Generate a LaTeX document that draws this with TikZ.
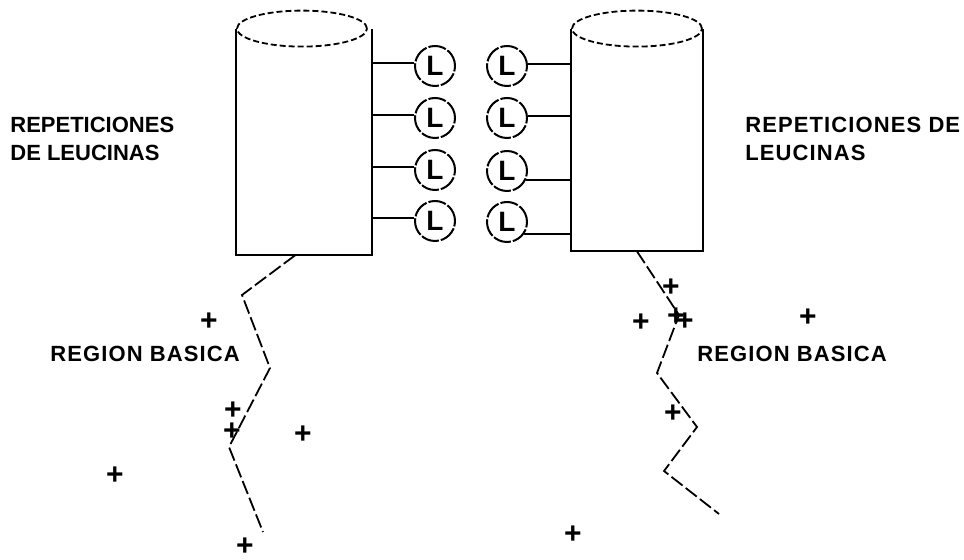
\documentclass[tikz,border=0pt]{standalone}
\usepackage{fontspec}
\setmainfont{Liberation Sans}
\usetikzlibrary{shapes.geometric}
\begin{document}
\begin{tikzpicture}[x=0.5pt,y=-0.5pt,
  lbl/.style={font=\bfseries\fontsize{11}{14}\selectfont, align=left, inner sep=0pt, anchor=north west},
  wide/.style={font=\bfseries\fontsize{11}{14}\selectfont\addfontfeature{LetterSpace=#1}},
  leu/.style={draw, circle, line width=1pt, dash pattern=on 9pt off 1pt, minimum size=20pt, inner sep=0pt, font=\bfseries\fontsize{14}{14}\selectfont},
  chg/.style={inner sep=0pt, font=\bfseries\fontsize{15}{15}\selectfont},
  zig/.style={line width=0.9pt, dash pattern=on 7pt off 2pt},
  lid/.style={draw, ellipse, line width=0.9pt, dash pattern=on 3pt off 1.5pt, minimum width=65pt, minimum height=18pt, inner sep=0pt}]
\useasboundingbox (0,0) rectangle (964,560);

% the two helices
\node[minimum width=68pt, minimum height=113pt, inner sep=0pt] (a) at (304,142) {};
\node[minimum width=66pt, minimum height=111pt, inner sep=0pt] (b) at (637,140) {};
\draw[line width=1pt] (a.north west) -- (a.south west) -- (a.south east) -- (a.north east);
\draw[line width=1pt] (b.north west) -- (b.south west) -- (b.south east) -- (b.north east);
\node[lid] (at) at ([xshift=-1pt]a.north) {};
\node[lid] (bt) at (b.north) {};

% leucines
\foreach \y [count=\i] in {66,118,170,221} {
  \node[leu] (la\i) at (435,\y) {L};
  \draw[line width=1pt] (la\i.172) -- (la\i.172 -| a.east);
}
\foreach \y/\ang [count=\i] in {66/5,118/5,171/-25,222/-35} {
  \node[leu] (lb\i) at (507,\y) {L};
  \draw[line width=1pt] (lb\i.\ang) -- (lb\i.\ang -| b.west);
}

% basic tails
\draw[zig] ([xshift=-4.5pt]a.south) -- (242,295) -- (270,368) -- (229,447) -- (263,532);
\draw[zig] (b.south) -- (679,315) -- (657,373) -- (697,427) -- (664,471) -- (719,514);

% charges
\foreach \p [count=\i] in {(209,322),(233,411),(232,432),(303,435),(115,476),(245,547),
  (671,288),(641,323),(676,317),(685,322),(808,318),(673,414),(573,535)}
  \node[chg] (c\i) at \p {+};

% labels
\node[lbl] (ra) at (10,117) {REPETICIONES\\DE LEUCINAS};
\node[lbl, wide=5] (rb) at (745,117) {REPETICIONES DE\\LEUCINAS};
\node[lbl, wide=5] (ga) at (50,346) {REGION BASICA};
\node[lbl, wide=5] (gb) at (697,346) {REGION BASICA};
\end{tikzpicture}
\end{document}
